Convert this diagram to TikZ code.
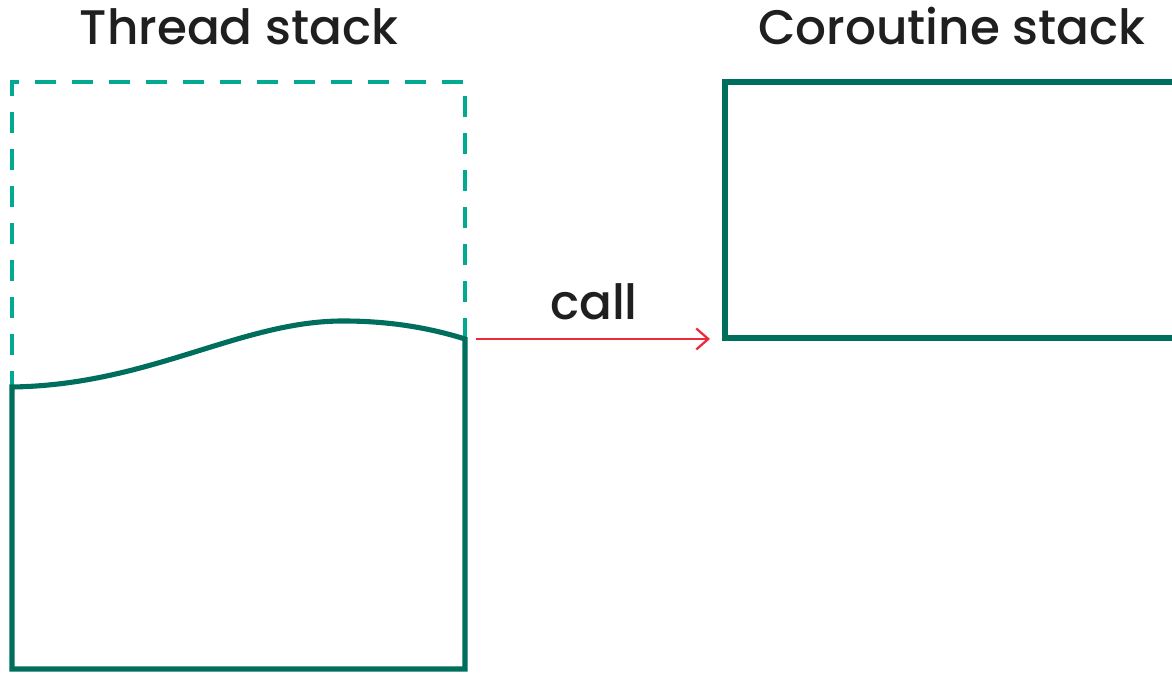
\documentclass[tikz,border=0pt]{standalone}
\usepackage{fontspec}
\setmainfont{Poppins}[UprightFont=* Medium]
\usetikzlibrary{arrows.meta}

\definecolor{stackgreen}{HTML}{006E5C}
\definecolor{freeteal}{HTML}{00A98F}
\definecolor{callred}{HTML}{EE2A3A}

\begin{document}
\begin{tikzpicture}[scale=1.0]

\tikzset{
  title/.style={font=\fontsize{13.8}{16}\selectfont, text=black!88, anchor=base, inner sep=0pt},
  used/.style={draw=stackgreen, line width=1.45pt},
  spare/.style={draw=freeteal, line width=1.3pt, dash pattern=on 0.21cm off 0.16cm, dash phase=0.05cm},
  callarrow/.style={draw=callred, line width=0.65pt, -{Straight Barb[length=1.2mm,width=2.1mm]}}
}

\useasboundingbox (0,0) rectangle (11.72,6.73);

\def\Xl{0.12}
\def\Xr{4.65}
\def\Ytop{5.91}
\def\Ybot{0.04}
\def\Ywl{2.86}
\def\Ywr{3.34}

% thread stack: spare part (dashed) above the used part
\draw[spare] (\Xl,\Ywl) -- (\Xl,\Ytop) -- (\Xr,\Ytop) -- (\Xr,\Ywr);
\draw[used, line join=miter] (\Xl,\Ywl) .. controls (1.5,2.88) and (2.4,3.52) .. (3.43,3.52)
  .. controls (3.9,3.52) and (4.3,3.45) .. (\Xr,\Ywr) -- (\Xr,\Ybot) -- (\Xl,\Ybot) -- cycle;

% coroutine stack, runs off to the right
\def\Cl{7.25}
\def\Cb{3.35}
\draw[used, line join=miter] (11.80,\Ytop) -- (\Cl,\Ytop) -- (\Cl,\Cb) -- (11.80,\Cb);

\node[title] (thread-title) at (2.39,6.28) {Thread stack};
\node[title] (coro-title) at (9.52,6.28) {Coroutine stack};
\node[title] (call-label) at (5.94,3.53) {call};

\coordinate (thread-out) at (4.76,\Ywr);
\coordinate (coro-in) at (7.10,\Ywr);
\draw[callarrow] (thread-out) -- (coro-in);

\end{tikzpicture}
\end{document}
